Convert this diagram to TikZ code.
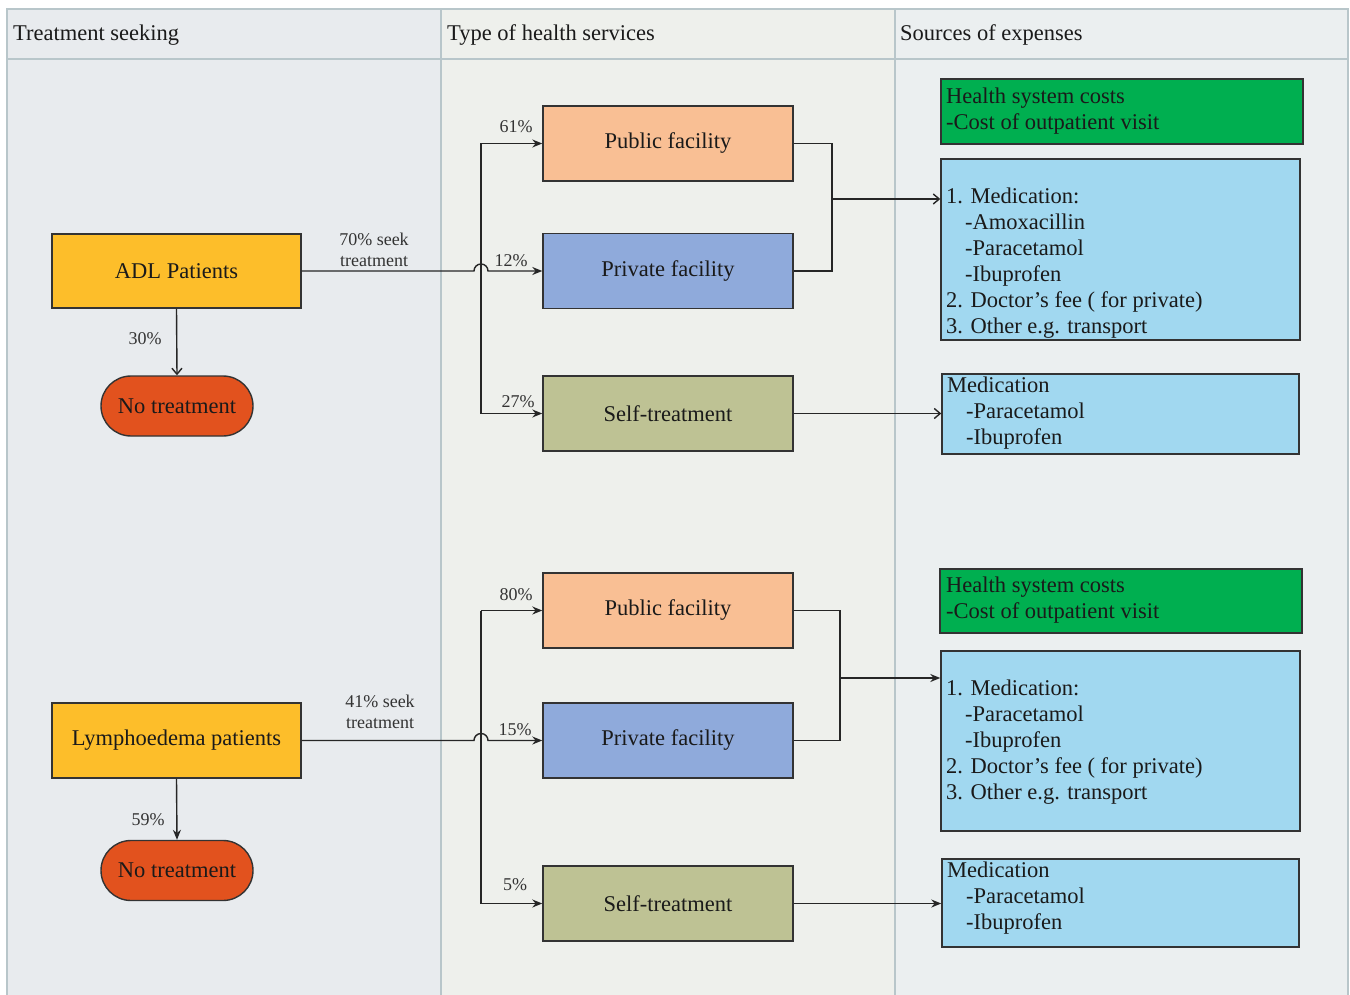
\documentclass[tikz,border=0pt]{standalone}
\usepackage{fontspec}
\setmainfont{Liberation Serif}
\usetikzlibrary{arrows.meta}
\definecolor{laneA}{HTML}{E8EBEE}
\definecolor{laneB}{HTML}{EEF0EC}
\definecolor{laneC}{HTML}{EBEFF0}
\definecolor{laneLine}{HTML}{B8C6CA}
\definecolor{patient}{HTML}{FDBE2A}
\definecolor{notreat}{HTML}{E2521E}
\definecolor{public}{HTML}{F9BF94}
\definecolor{private}{HTML}{8FAADB}
\definecolor{selft}{HTML}{BEC294}
\definecolor{hsgreen}{HTML}{00AF50}
\definecolor{medblue}{HTML}{A1D8F0}
\definecolor{ink}{HTML}{1A1A1A}
\definecolor{lbl}{HTML}{333333}
\begin{document}
\begin{tikzpicture}[x=1pt,y=-1pt,
  bigfont/.style={font=\fontsize{22.5}{26}\selectfont},
  box/.style={draw=black!80,line width=1.4pt,inner sep=0pt,text=ink,bigfont},
  midbox/.style={box,minimum width=250pt,minimum height=75pt},
  notbox/.style={box,fill=notreat,rounded corners=30pt,minimum width=152pt,minimum height=60pt},
  costbox/.style={draw=black!80,line width=1.4pt,inner sep=0pt},
  costtext/.style={anchor=west,align=left,inner sep=0pt,text=ink,bigfont},
  pct/.style={inner sep=0pt,text=lbl,font=\fontsize{18}{21}\selectfont},
  hdr/.style={anchor=west,inner sep=0pt,text=ink,bigfont},
  conn/.style={draw=black!85,line width=1.4pt},
  arr/.style={conn,-{Stealth[length=10pt,width=8pt]}},
  arrv/.style={conn,-{Straight Barb[length=6pt,width=10pt]}}
]
\useasboundingbox (0,0) rectangle (1350,995);
% swimlanes
\fill[laneA] (7,9) rectangle (441,1000);
\fill[laneB] (441,9) rectangle (895,1000);
\fill[laneC] (895,9) rectangle (1348,1000);
\draw[laneLine,line width=1.4pt] (7,1000) -- (7,9) -- (1348,9) -- (1348,1000);
\draw[laneLine,line width=1.4pt] (7,59) -- (1348,59);
\draw[laneLine,line width=1.4pt] (441,9) -- (441,1000);
\draw[laneLine,line width=1.4pt] (895,9) -- (895,1000);
\node[hdr] (h1) at (13,35) {Treatment seeking};
\node[hdr] (h2) at (447,35) {Type of health services};
\node[hdr] (h3) at (900,35) {Sources of expenses};

% ---------- upper block (ADL) ----------
\node[box,fill=patient,minimum width=249pt,minimum height=74pt] (adl) at (176.5,271) {ADL Patients};
\node[notbox] (nt1) at (177,406) {No treatment};
\node[midbox,fill=public] (pub1) at (668,143.5) {Public facility};
\node[midbox,fill=private] (pri1) at (668,271) {Private facility};
\node[midbox,fill=selft] (self1) at (668,413.5) {Self-treatment};

\node[costbox,fill=hsgreen,minimum width=362pt,minimum height=65pt] (g1) at (1122,111.5) {};
\node[costtext] (g1t) at (946,111) {Health system costs\\-Cost of outpatient visit};
\node[costbox,fill=medblue,minimum width=359pt,minimum height=181pt] (b1) at (1120.5,249.5) {};
\node[costtext] (b1t) at (946,263) {1. Medication:\\\hspace*{19pt}-Amoxacillin\\\hspace*{19pt}-Paracetamol\\\hspace*{19pt}-Ibuprofen\\2. Doctor's fee ( for private)\\3. Other e.g. transport};
\node[costbox,fill=medblue,minimum width=357pt,minimum height=80pt] (b2) at (1120.5,414) {};
\node[costtext] (b2t) at (947,413) {Medication\\\hspace*{19pt}-Paracetamol\\\hspace*{19pt}-Ibuprofen};

\coordinate (bus1) at (481,0);
\coordinate (join1) at (832,0);
% patient to no treatment
\draw[arrv] (adl.south) -- (nt1.north);
\node[pct] (p30) at (145,339) {30\%};
% patient to private with hop
\draw[arr] (adl.east) -- ([xshift=-7pt]bus1 |- adl.east) arc[start angle=180,end angle=0,radius=7pt] -- (pri1.west);
\node[pct,align=center] (p70) at (374,249.5) {70\% seek\\treatment};
% bus
\draw[conn] (bus1 |- pub1.west) -- (bus1 |- self1.west);
\draw[arr] (bus1 |- pub1.west) -- (pub1.west);
\draw[arr] (bus1 |- self1.west) -- (self1.west);
\node[pct] (p61) at (516,127) {61\%};
\node[pct] (p12) at (511,261) {12\%};
\node[pct] (p27) at (518,402) {27\%};
% join public/private
\draw[conn] (pub1.east) -- (join1 |- pub1.east) -- (join1 |- pri1.east) -- (pri1.east);
\draw[arrv] (join1 |- 0,199) -- (b1.west |- 0,199);
\draw[arrv] (self1.east) -- (b2.west |- self1.east);

% ---------- lower block (Lymphoedema) ----------
\node[box,fill=patient,minimum width=249pt,minimum height=75pt] (lym) at (176.5,740.5) {Lymphoedema patients};
\node[notbox] (nt2) at (177,870.5) {No treatment};
\node[midbox,fill=public] (pub2) at (668,610.5) {Public facility};
\node[midbox,fill=private] (pri2) at (668,740.5) {Private facility};
\node[midbox,fill=selft] (self2) at (668,903.5) {Self-treatment};

\node[costbox,fill=hsgreen,minimum width=362pt,minimum height=64pt] (g2) at (1121,601) {};
\node[costtext] (g2t) at (946,600) {Health system costs\\-Cost of outpatient visit};
\node[costbox,fill=medblue,minimum width=359pt,minimum height=180pt] (b3) at (1120.5,741) {};
\node[costtext] (b3t) at (946,742) {1. Medication:\\\hspace*{19pt}-Paracetamol\\\hspace*{19pt}-Ibuprofen\\2. Doctor's fee ( for private)\\3. Other e.g. transport};
\node[costbox,fill=medblue,minimum width=357pt,minimum height=88pt] (b4) at (1120.5,903) {};
\node[costtext] (b4t) at (947,898) {Medication\\\hspace*{19pt}-Paracetamol\\\hspace*{19pt}-Ibuprofen};

\coordinate (bus2) at (481,0);
\coordinate (join2) at (840,0);
\draw[arr] (lym.south) -- (nt2.north);
\node[pct] (p59) at (148,820) {59\%};
\draw[arr] (lym.east) -- ([xshift=-7pt]bus2 |- lym.east) arc[start angle=180,end angle=0,radius=7pt] -- (pri2.west);
\node[pct,align=center] (p41) at (380,711.5) {41\% seek\\treatment};
\draw[conn] (bus2 |- pub2.west) -- (bus2 |- self2.west);
\draw[arr] (bus2 |- pub2.west) -- (pub2.west);
\draw[arr] (bus2 |- self2.west) -- (self2.west);
\node[pct] (p80) at (516,595) {80\%};
\node[pct] (p15) at (515,730) {15\%};
\node[pct] (p5) at (515,885) {5\%};
\draw[conn] (pub2.east) -- (join2 |- pub2.east) -- (join2 |- pri2.east) -- (pri2.east);
\draw[arr] (join2 |- 0,678) -- (b3.west |- 0,678);
\draw[arr] (self2.east) -- (b4.west |- self2.east);
\end{tikzpicture}
\end{document}
